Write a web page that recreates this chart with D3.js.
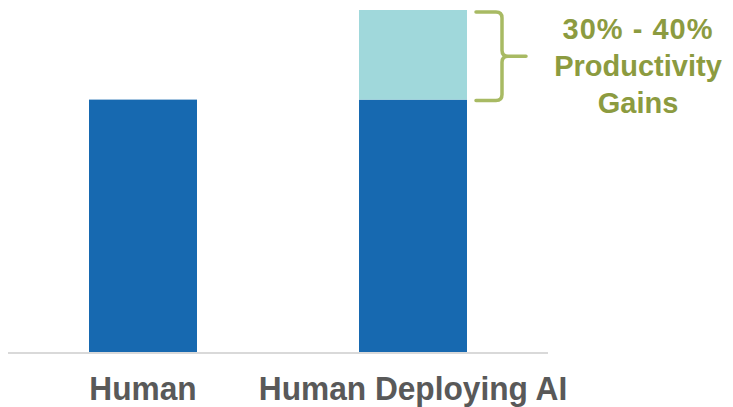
<!DOCTYPE html>
<html>
<head>
<meta charset="utf-8">
<script src="https://cdn.jsdelivr.net/npm/d3@7"></script>
<style>
  html, body { margin: 0; padding: 0; background: #fff; }
  svg { display: block; }
  text { font-family: "Liberation Sans", Arial, sans-serif; font-weight: bold; }
</style>
</head>
<body>
<svg id="chart" width="733" height="407"></svg>
<script>
// Categories and stacked values (relative productivity, human baseline = 100)
const categories = ["Human", "Human Deploying AI"];
const baseValues = [100, 100];
const gainValues = [0, 35.5];
const gainLabelLines = ["30% - 40%", "Productivity", "Gains"];

const svg = d3.select("#chart");

const x = d3.scaleBand()
  .domain(categories)
  .range([8, 548])
  .paddingInner(0.6)
  .paddingOuter(0.3);

const y = d3.scaleLinear()
  .domain([0, 135.5])
  .range([352, 10]);

const rows = categories.map((c, i) => ({ cat: c, base: baseValues[i], gain: gainValues[i] }));
const stacked = d3.stack().keys(["base", "gain"])(rows);
const colors = { base: "#1769b0", gain: "#a0d8db" };

svg.append("g").selectAll("g")
  .data(stacked)
  .join("g")
  .attr("fill", d => colors[d.key])
  .selectAll("rect")
  .data(d => d)
  .join("rect")
  .attr("x", d => x(d.data.cat))
  .attr("width", x.bandwidth())
  .attr("y", d => y(d[1]))
  .attr("height", d => y(d[0]) - y(d[1]));

// Baseline axis
const xAxis = svg.append("g")
  .attr("transform", `translate(0,${y(0) + 1})`)
  .call(d3.axisBottom(x).tickSize(0).tickPadding(24));
xAxis.select(".domain").attr("stroke", "#d9d9d9").attr("stroke-width", 2)
  .attr("d", "M8,0H548");
xAxis.selectAll(".tick text")
  .attr("fill", "#595959")
  .attr("transform", "scale(0.96,1)")
  .style("font-size", "33px")
  .style("font-family", "'Liberation Sans', Arial, sans-serif")
  .style("font-weight", "bold");

// Curly brace spanning the productivity gain segment
const gi = 1;
const braceTop = y(baseValues[gi] + gainValues[gi]) + 2;
const braceBot = y(baseValues[gi]) + 1;
const braceMid = (braceTop + braceBot) / 2;
const bx0 = x(categories[gi]) + x.bandwidth() + 9;
const bx = bx0 + 26;
const tipX = bx + 24;
const r = 6;
const brace = d3.path();
brace.moveTo(bx0, braceTop);
brace.lineTo(bx - r, braceTop);
brace.quadraticCurveTo(bx, braceTop, bx, braceTop + r);
brace.lineTo(bx, braceMid - r);
brace.quadraticCurveTo(bx, braceMid, bx + r, braceMid);
brace.lineTo(tipX, braceMid);
brace.moveTo(bx + r, braceMid);
brace.quadraticCurveTo(bx, braceMid, bx, braceMid + r);
brace.lineTo(bx, braceBot - r);
brace.quadraticCurveTo(bx, braceBot, bx - r, braceBot);
brace.lineTo(bx0, braceBot);
svg.append("path")
  .attr("d", brace.toString())
  .attr("fill", "none")
  .attr("stroke", "#a8ba63")
  .attr("stroke-width", 3.5)
  .attr("stroke-linecap", "round")
  .attr("stroke-linejoin", "round");

// Gain annotation
svg.append("text")
  .attr("x", 638)
  .attr("y", 39)
  .attr("text-anchor", "middle")
  .attr("fill", "#8c9b40")
  .style("font-size", "29px")
  .selectAll("tspan")
  .data(gainLabelLines)
  .join("tspan")
  .attr("x", 638)
  .attr("dy", (d, i) => i === 0 ? 0 : 37)
  .style("letter-spacing", (d, i) => i === 0 ? "1px" : null)
  .text(d => d);
</script>
</body>
</html>
